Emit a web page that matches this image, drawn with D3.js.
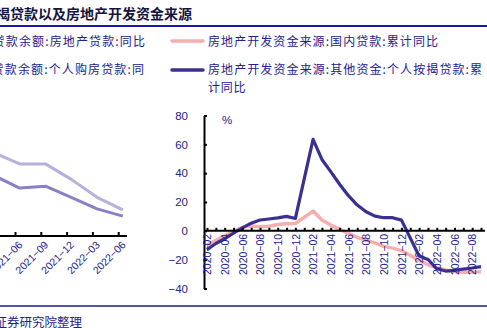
<!DOCTYPE html>
<html><head><meta charset="utf-8">
<script src="https://cdn.jsdelivr.net/npm/d3@7"></script>
<style>body{margin:0;background:#fff;overflow:hidden}svg{display:block}</style>
</head><body><svg id="c" width="487" height="328"></svg>
<script>
// ---------- data ----------
const titleText = "图：个人住房按揭贷款以及房地产开发资金来源";
const sourceText = "资料来源：Wind，证券研究院整理";

const leftLegend = ["贷款余额:房地产贷款:同比", "贷款余额:个人购房贷款:同比"];
const rightLegend = ["房地产开发资金来源:国内贷款:累计同比", "房地产开发资金来源:其他资金:个人按揭贷款:累计同比"];

const leftQuarters = ["2021-03","2021-06","2021-09","2021-12","2022-03","2022-06"];
const leftRealEstateLoans = [17.2, 14.9, 14.9, 11.7, 8.0, 5.4];
const leftHousingLoans    = [12.5, 9.9, 10.3, 8.0, 5.6, 4.1];

const months = ["2020-02","2020-03","2020-04","2020-05","2020-06","2020-07","2020-08","2020-09","2020-10","2020-11","2020-12",
  "2021-01","2021-02","2021-03","2021-04","2021-05","2021-06","2021-07","2021-08","2021-09","2021-10","2021-11","2021-12",
  "2022-01","2022-02","2022-03","2022-04","2022-05","2022-06","2022-07","2022-08","2022-09"];
const domesticLoans = [-10, -6.5, -3.5, -0.5, 2.5, 3.3, 2.9, 3.2, 4.4, 4.9, 5.1,
  null, 13.7, 7.5, 4.0, 1.2, -2.0, -4.5, -6.5, -8.4, -10.8, -12.0, -13.7,
  null, -20.5, -23.5, -25.5, -27.2, -28.2, -28.8, -28.8, -28.4];
const mortgageFunds = [-13, -8.8, -5.5, -1.6, 2.0, 5.3, 7.5, 8.2, 9.0, 10.0, 8.6,
  null, 63.5, 49.5, 41.1, 32.3, 24.4, 17.9, 13.2, 10.2, 9.1, 9.1, 7.4,
  null, -17.5, -19.8, -26.3, -27.9, -27.4, -26.5, -25.8, -24.8];
const rightYTicks = [-40, -20, 0, 20, 40, 60, 80];

// ---------- styles ----------
const CJK = "'Noto Sans CJK SC', sans-serif";
const NUM = "'Liberation Sans', Arial, sans-serif";
const NAVY_TEXT = "#22228c";
const svg = d3.select("#c");
svg.append("rect").attr("width", 487).attr("height", 328).attr("fill", "#fff");

// title & rules
svg.append("text").attr("x", 192).attr("y", 19).attr("text-anchor", "end")
  .attr("font-family", CJK).attr("font-weight", "bold").attr("font-size", 14)
  .attr("fill", "#14143c").text(titleText);
svg.append("line").attr("x1", 0).attr("x2", 487).attr("y1", 26).attr("y2", 26)
  .attr("stroke", "#1c1c8c").attr("stroke-width", 2);
svg.append("line").attr("x1", 0).attr("x2", 487).attr("y1", 306).attr("y2", 306)
  .attr("stroke", "#1c1c8c").attr("stroke-width", 1.5);
svg.append("text").attr("x", 82).attr("y", 327).attr("text-anchor", "end")
  .attr("font-family", CJK).attr("font-size", 12.5).attr("fill", NAVY_TEXT).text(sourceText);

// ---------- left chart (partly cut off) ----------
const xL = d3.scaleLinear().domain([0, 5]).range([-10.8, 118.2]);
const yL = d3.scaleLinear().domain([0, 25]).range([236, 115]);
const ptOffset = 0.18;

// legend texts (cut)
svg.append("text").attr("x", -7.4).attr("y", 46).attr("textLength", 152.4).attr("lengthAdjust", "spacing")
  .attr("font-family", CJK).attr("font-size", 12).attr("fill", NAVY_TEXT).text(leftLegend[0]);
svg.append("text").attr("x", -8.4).attr("y", 74).attr("textLength", 152.4).attr("lengthAdjust", "spacing")
  .attr("font-family", CJK).attr("font-size", 12).attr("fill", NAVY_TEXT).text(leftLegend[1].slice(0, -1));
svg.append("text").attr("x", -60).attr("y", 92)
  .attr("font-family", CJK).attr("font-size", 12).attr("fill", NAVY_TEXT).text(leftLegend[1].slice(-1));

const lineL = d3.line().x((d, i) => xL(i + ptOffset)).y(d => yL(d));
svg.append("path").datum(leftRealEstateLoans).attr("d", lineL).attr("fill", "none")
  .attr("stroke", "#b6b1dc").attr("stroke-width", 3).attr("stroke-linejoin", "round");
svg.append("path").datum(leftHousingLoans).attr("d", lineL).attr("fill", "none")
  .attr("stroke", "#8a80c6").attr("stroke-width", 3).attr("stroke-linejoin", "round");

const gxL = svg.append("g").attr("transform", `translate(0,${yL(0)})`)
  .call(d3.axisBottom(xL).tickValues([1, 2, 3, 4, 5]).tickSize(-4).tickSizeOuter(0)
    .tickFormat(i => leftQuarters[i].replace("-", "\u2212")));
gxL.select(".domain").remove();
gxL.selectAll(".tick line").attr("stroke", "#000").attr("stroke-width", 2);
gxL.selectAll(".tick text").attr("x", 0).attr("y", 0).attr("dy", "0.35em")
  .attr("transform", "translate(5,7) rotate(-45)").attr("text-anchor", "end")
  .attr("font-family", NUM).attr("font-size", 10.5).attr("fill", NAVY_TEXT);
gxL.append("line").attr("x1", -60).attr("x2", 127).attr("stroke", "#000").attr("stroke-width", 2);

// ---------- right chart ----------
const xR = d3.scalePoint().domain(months).range([207, 481]);
const yR = d3.scaleLinear().domain([-40, 80]).range([288.5, 115.5]);

// legend
const legX1 = 172, legX2 = 203;
svg.append("line").attr("x1", legX1).attr("x2", legX2).attr("y1", 41).attr("y2", 41)
  .attr("stroke", "#f7aeae").attr("stroke-width", 3.5).attr("stroke-linecap", "round");
svg.append("line").attr("x1", legX1).attr("x2", legX2).attr("y1", 70).attr("y2", 70)
  .attr("stroke", "#3a3091").attr("stroke-width", 3.5).attr("stroke-linecap", "round");
svg.append("text").attr("x", 208).attr("y", 46).attr("textLength", 230).attr("lengthAdjust", "spacing")
  .attr("font-family", CJK).attr("font-size", 12).attr("fill", NAVY_TEXT).text(rightLegend[0]);
const wrapAt = 23;
svg.append("text").attr("x", 208).attr("y", 74).attr("textLength", 274).attr("lengthAdjust", "spacing")
  .attr("font-family", CJK).attr("font-size", 12).attr("fill", NAVY_TEXT).text(rightLegend[1].slice(0, wrapAt));
svg.append("text").attr("x", 208).attr("y", 92).attr("textLength", 37.5).attr("lengthAdjust", "spacing")
  .attr("font-family", CJK).attr("font-size", 12).attr("fill", NAVY_TEXT).text(rightLegend[1].slice(wrapAt));

// lines
const seriesPts = vals => months.map((m, i) => ({m, v: vals[i]})).filter(d => d.v !== null);
const lineR = d3.line().x(d => xR(d.m)).y(d => yR(d.v));
svg.append("path").datum(seriesPts(domesticLoans)).attr("d", lineR).attr("fill", "none")
  .attr("stroke", "#f7aeae").attr("stroke-width", 3.5).attr("stroke-linejoin", "round");
svg.append("path").datum(seriesPts(mortgageFunds)).attr("d", lineR).attr("fill", "none")
  .attr("stroke", "#3a3091").attr("stroke-width", 3.2).attr("stroke-linejoin", "round");

// y axis
const gyR = svg.append("g").attr("transform", "translate(204,0)")
  .call(d3.axisLeft(yR).tickValues(rightYTicks).tickSize(-3).tickSizeOuter(0).tickPadding(16));
gyR.select(".domain").attr("stroke", "#000").attr("stroke-width", 2);
gyR.selectAll(".tick line").attr("stroke", "#000").attr("stroke-width", 2);
gyR.selectAll(".tick text").attr("font-family", NUM).attr("font-size", 11.5).attr("fill", NAVY_TEXT);

svg.append("text").attr("x", 227).attr("y", 124).attr("text-anchor", "middle")
  .attr("font-family", NUM).attr("font-size", 11.5).attr("fill", NAVY_TEXT).text("%");

// x axis at zero
const gxR = svg.append("g").attr("transform", `translate(0,${yR(0)})`)
  .call(d3.axisBottom(xR).tickSize(-3).tickSizeOuter(0)
    .tickFormat((m, i) => i % 2 === 0 ? m.replace("-", "\u2212") : ""));
gxR.select(".domain").remove();
gxR.append("line").attr("x1", 204).attr("x2", 485).attr("stroke", "#000").attr("stroke-width", 2);
gxR.selectAll(".tick line").attr("stroke", "#000").attr("stroke-width", 2);
gxR.selectAll(".tick text").attr("x", -3).attr("y", 0).attr("dy", "0.35em")
  .attr("transform", "rotate(-90)").attr("text-anchor", "end")
  .attr("font-family", NUM).attr("font-size", 10.5).attr("fill", NAVY_TEXT);
</script></body></html>
